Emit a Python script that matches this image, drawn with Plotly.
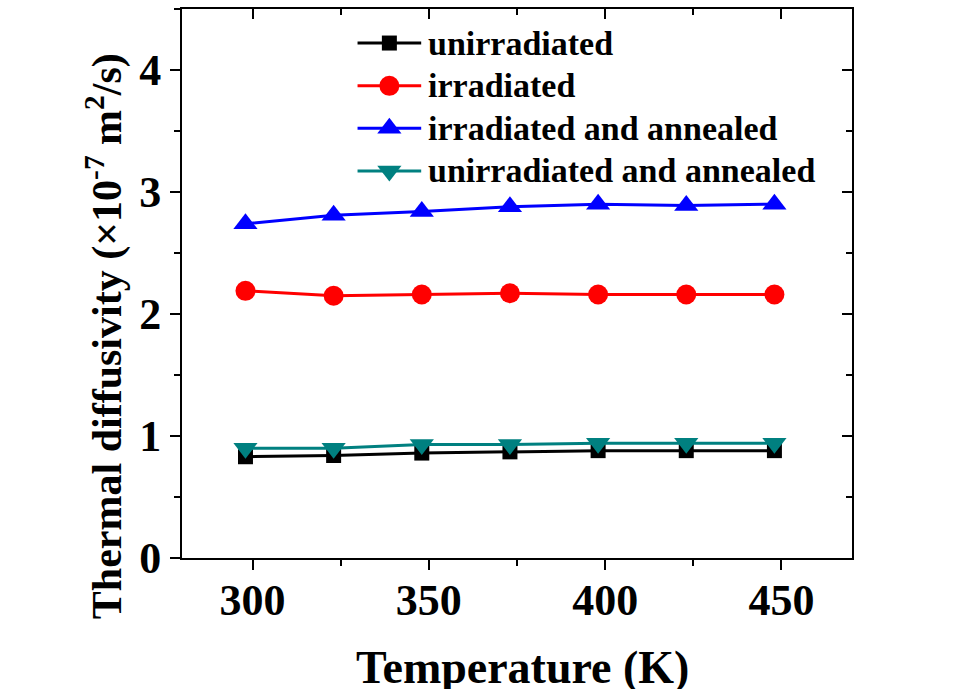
import plotly.graph_objects as go

# Sample temperatures (K)
temperature = [298, 323, 348, 373, 398, 423, 448]

# Thermal diffusivity (x10^-7 m^2/s)
unirradiated = [0.83, 0.84, 0.86, 0.87, 0.88, 0.88, 0.88]
irradiated = [2.19, 2.15, 2.16, 2.17, 2.16, 2.16, 2.16]
irradiated_annealed = [2.74, 2.81, 2.84, 2.88, 2.90, 2.89, 2.90]
unirradiated_annealed = [0.90, 0.90, 0.93, 0.93, 0.94, 0.94, 0.94]

series_names = ["unirradiated", "irradiated", "irradiated and annealed",
                "unirradiated and annealed"]
series_values = [unirradiated, irradiated, irradiated_annealed, unirradiated_annealed]
series_colors = ["#000000", "#FF0000", "#0000FF", "#008080"]
series_symbols = ["square", "circle", "triangle-up", "triangle-down"]
series_sizes = [15, 20, 21, 21]

x_range = [280, 470]
y_range = [0, 4.5]

FONT = "Liberation Serif"

fig = go.Figure()

for name, vals, col, sym, sz in zip(series_names, series_values, series_colors,
                                    series_symbols, series_sizes):
    fig.add_trace(go.Scatter(
        x=temperature, y=vals, name=name, mode="lines+markers",
        line=dict(color=col, width=3),
        marker=dict(symbol=sym, size=sz, color=col, opacity=1, line=dict(width=0)),
        showlegend=False, hoverinfo="skip",
    ))

# empty traces so the mirrored frame axes (top / right) are drawn
fig.add_trace(go.Scatter(x=[], y=[], xaxis="x2", yaxis="y", showlegend=False))
fig.add_trace(go.Scatter(x=[], y=[], xaxis="x", yaxis="y2", showlegend=False))

# key drawn on a unit overlay axis pair
key_left, key_right = 0.262, 0.357
key_rows = [0.938, 0.860, 0.783, 0.705]
key_text_x = 0.364
for name, col, sym, sz, ky in zip(series_names, series_colors, series_symbols,
                                  series_sizes, key_rows):
    fig.add_trace(go.Scatter(
        x=[key_left, key_right], y=[ky, ky],
        mode="lines", xaxis="x3", yaxis="y3",
        line=dict(color=col, width=3),
        showlegend=False, hoverinfo="skip",
    ))
    fig.add_trace(go.Scatter(
        x=[(key_left + key_right) / 2], y=[ky],
        mode="markers", xaxis="x3", yaxis="y3",
        marker=dict(symbol=sym, size=sz, color=col, opacity=1, line=dict(width=0)),
        showlegend=False, hoverinfo="skip",
    ))
    fig.add_annotation(
        x=key_text_x, y=ky, xref="x3", yref="y3", text=name, showarrow=False,
        xanchor="left", yanchor="middle",
        font=dict(family=FONT, size=34, color="black", weight="bold"),
    )

axis_common = dict(
    showline=True, linecolor="black", linewidth=2, showgrid=False,
    zeroline=False, tickcolor="black", tickwidth=2, ticklen=10,
)

fig.update_layout(
    width=980, height=689,
    margin=dict(l=182, r=128, t=9, b=131),
    paper_bgcolor="white", plot_bgcolor="white",
    showlegend=False,
    font=dict(family=FONT, color="black"),
    xaxis=dict(
        **axis_common, range=x_range, ticks="outside", dtick=50, tick0=300,
        ticklabelstandoff=-8,
        tickfont=dict(family=FONT, size=44, color="black", weight="bold"),
        minor=dict(ticks="outside", dtick=25, tick0=300, ticklen=6,
                   tickwidth=2, tickcolor="black"),
    ),
    yaxis=dict(
        **axis_common, range=y_range, ticks="outside", dtick=1, tick0=0,
        tickfont=dict(family=FONT, size=44, color="black", weight="bold"),
        minor=dict(ticks="outside", dtick=0.5, tick0=0, ticklen=6,
                   tickwidth=2, tickcolor="black"),
    ),
    xaxis2=dict(
        **axis_common, range=x_range, overlaying="x", side="top", anchor="y",
        ticks="inside", dtick=50, tick0=300, showticklabels=False,
        minor=dict(ticks="inside", dtick=25, tick0=300, ticklen=6,
                   tickwidth=2, tickcolor="black"),
    ),
    yaxis2=dict(
        **axis_common, range=y_range, overlaying="y", side="right", anchor="x",
        ticks="inside", dtick=1, tick0=0, showticklabels=False,
        minor=dict(ticks="inside", dtick=0.5, tick0=0, ticklen=6,
                   tickwidth=2, tickcolor="black"),
    ),
    xaxis3=dict(overlaying="x", range=[0, 1], visible=False, anchor="y3"),
    yaxis3=dict(overlaying="y", range=[0, 1], visible=False, anchor="x3"),
)

fig.add_annotation(
    x=0.5075, y=-0.15, xref="paper", yref="paper", text="Temperature (K)",
    showarrow=False, xanchor="center", yanchor="top",
    font=dict(family=FONT, size=46, color="black", weight="bold"),
)
fig.add_annotation(
    x=-0.115, y=0.404, xref="paper", yref="paper",
    text="Thermal diffusivity (×10<sup>-7</sup> m<sup>2</sup>/s)",
    showarrow=False, textangle=-90, xanchor="center", yanchor="middle",
    font=dict(family=FONT, size=42, color="black", weight="bold"),
)

fig.write_html("out.html")
